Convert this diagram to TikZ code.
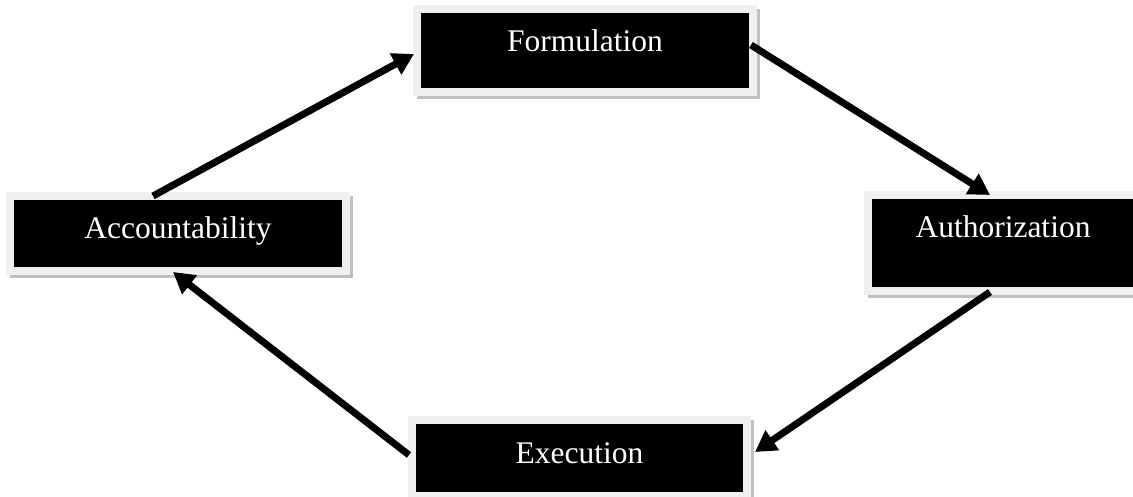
\documentclass[tikz,border=0pt]{standalone}
\usepackage{fontspec}
\setmainfont{Liberation Serif}
\usetikzlibrary{arrows.meta,backgrounds}
\definecolor{framec}{HTML}{F0F0F0}
\definecolor{shadowc}{HTML}{C0C0C0}
\tikzset{
  box/.style={rectangle, fill=black, draw=framec, line width=8pt, text=white,
    inner xsep=0pt, inner ysep=0pt, outer sep=0pt, text height=43pt,
    font=\fontsize{31.5}{36}\selectfont},
  conn/.style={line width=7pt, -{Triangle[length=21pt,width=23pt]}},
  shadowbox/.style={fill=shadowc}
}
\begin{document}
\begin{tikzpicture}[x=1pt,y=-1pt]
\clip (0,0) rectangle (1133,497);
\node[box, minimum width=336pt, text depth=40pt] (F) at (585,9) [anchor=north] {Formulation};
\node[box, minimum width=336pt, text depth=32pt] (A) at (178,196) [anchor=north] {Accountability};
\node[box, minimum width=270pt, text depth=53pt] (U) at (1003,195) [anchor=north] {Authorization};
\node[box, minimum width=335pt, text depth=33pt] (E) at (579.5,420) [anchor=north] {Execution};
\begin{scope}[on background layer]
  \fill[white] (0,0) rectangle (1133,497);
  \foreach \n in {F,A,U,E}{
    \fill[shadowbox] (\n.north west) rectangle ([xshift=7pt,yshift=-7pt]\n.south east);
  }
\end{scope}
\draw[conn] ([xshift=-25pt]A.north) -- ([xshift=-3pt,yshift=-3.5pt]F.west);
\draw[conn] ([xshift=-2pt,yshift=5.5pt]F.east) -- ([xshift=-13pt]U.north);
\draw[conn] ([xshift=-13pt,yshift=-1pt]U.south) -- ([xshift=8pt,yshift=6pt]E.east);
\draw[conn] ([xshift=-3pt,yshift=3pt]E.west) -- ([xshift=-5pt,yshift=-1pt]A.south);
\end{tikzpicture}
\end{document}
